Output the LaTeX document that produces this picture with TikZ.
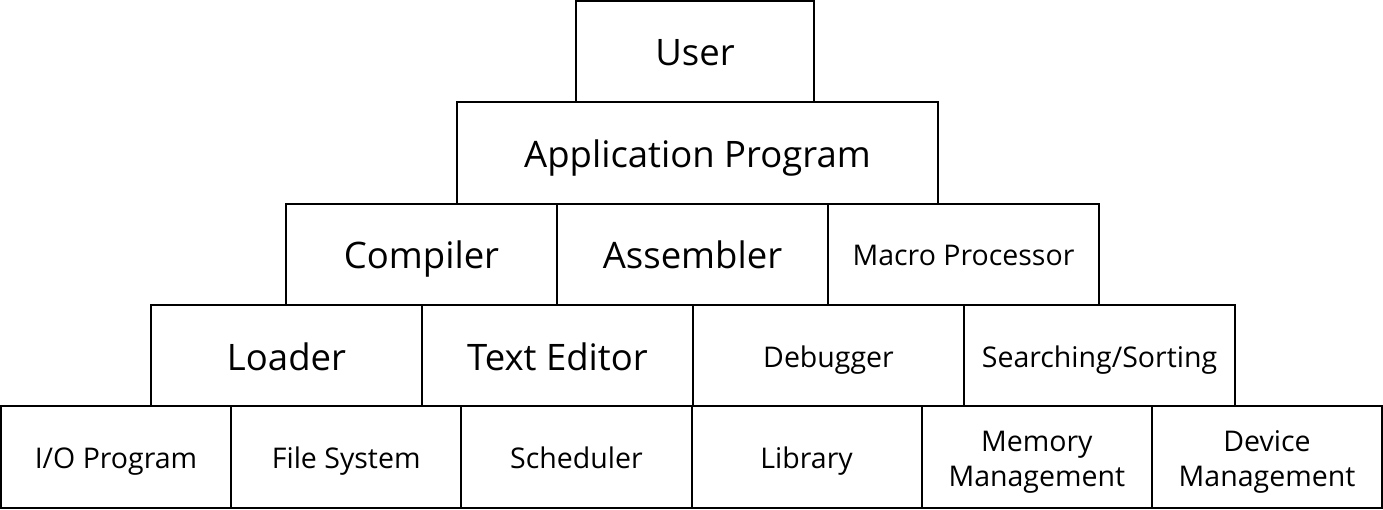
\documentclass[tikz,border=0pt]{standalone}
\usepackage{fontspec}
\setmainfont{Open Sans}
\usetikzlibrary{positioning}

\begin{document}
\begin{tikzpicture}[x=1pt,y=-1pt,node distance=0pt,
    every node/.style={draw,line width=2pt,inner sep=0pt,outer sep=0pt,align=center},
    big box/.style={font=\fontsize{36.5}{44}\selectfont,text height=29pt,text depth=0pt},
    small box/.style={font=\fontsize{28.5}{35}\selectfont,text height=23pt,text depth=0pt},
    two lines/.style={text height=58pt},
    mid box/.style={minimum width=271pt,minimum height=101pt},
    base box/.style={minimum width=230.2pt,minimum height=102pt}]

\useasboundingbox (0,0) rectangle (1383,510);

\node[big box,minimum width=238pt,minimum height=101pt] (user) at (695,51.5) {User};
\node[big box,minimum width=481pt,minimum height=102pt] (app) at (697.5,153) {Application Program};

\node[big box,mid box] (compiler) at (421.5,254.5) {Compiler};
\node[big box,mid box,right=of compiler] (assembler) {Assembler};
\node[small box,mid box,right=of assembler] (macro) {Macro Processor};

\node[big box,mid box] (loader) at (286.5,355.5) {Loader};
\node[big box,mid box,right=of loader] (editor) {Text Editor};
\node[small box,mid box,right=of editor] (debugger) {Debugger};
\node[small box,mid box,right=of debugger] (sorting) {Searching/Sorting};

\node[small box,base box] (io) at (116,457) {I/O Program};
\node[small box,base box,right=of io] (filesys) {File System};
\node[small box,base box,right=of filesys] (scheduler) {Scheduler};
\node[small box,base box,right=of scheduler] (library) {Library};
\node[small box,two lines,base box,right=of library] (memory) {Memory\\Management};
\node[small box,two lines,base box,right=of memory] (device) {Device\\Management};

\end{tikzpicture}
\end{document}
